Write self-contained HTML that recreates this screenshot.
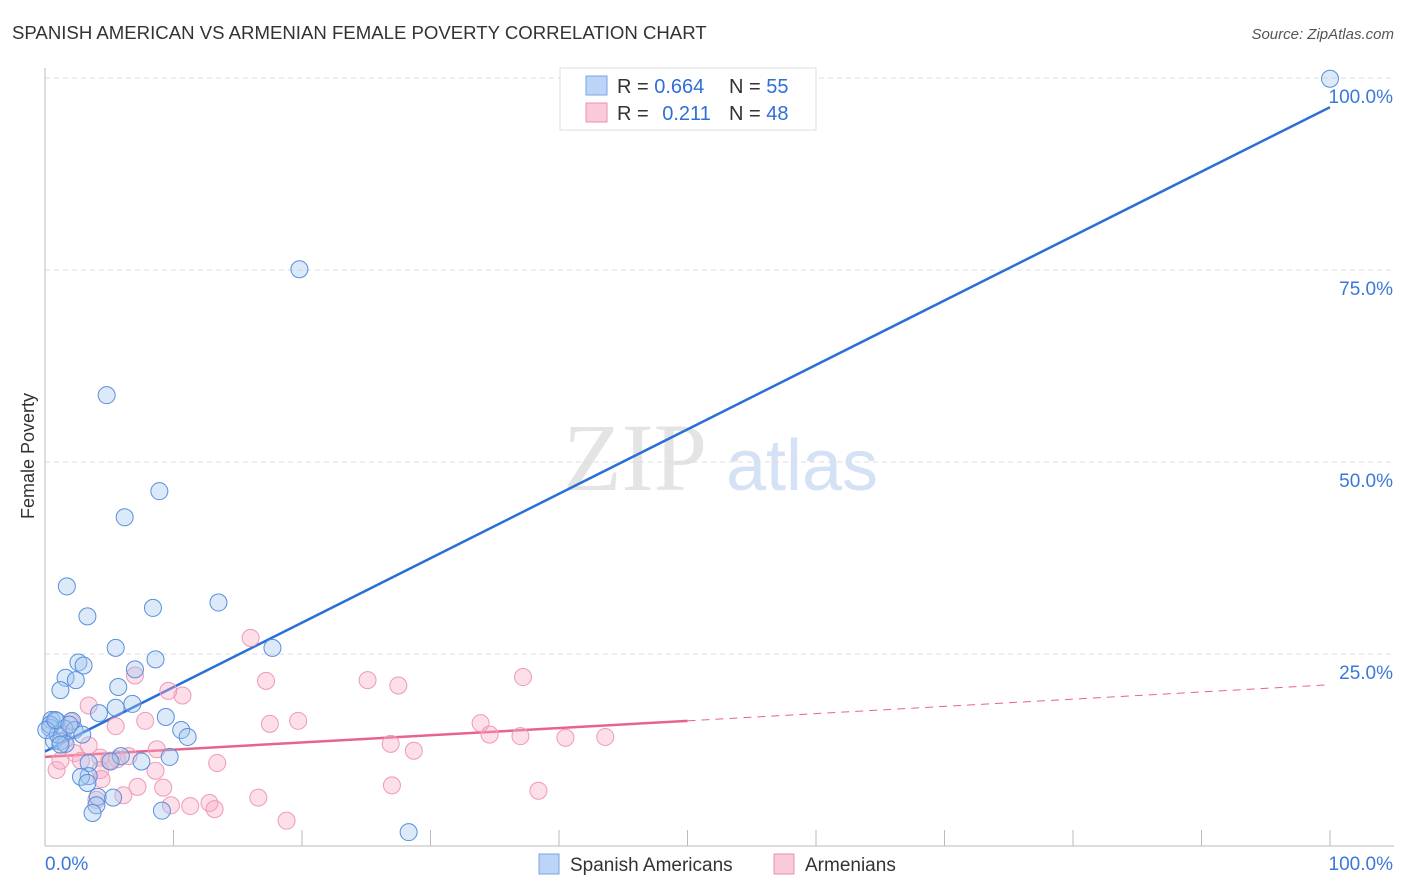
<!DOCTYPE html>
<html><head><meta charset="utf-8"><style>
body{margin:0;background:#fff;font-family:"Liberation Sans",sans-serif;}
svg{display:block}
</style></head><body>
<svg id="chart" width="1406" height="892">
<text x="12" y="39" font-size="18.6" fill="#333">SPANISH AMERICAN VS ARMENIAN FEMALE POVERTY CORRELATION CHART</text>
<text x="1394" y="39" font-size="15" fill="#555" font-style="italic" text-anchor="end">Source: ZipAtlas.com</text>
<text x="34" y="456" font-size="18" fill="#333" text-anchor="middle" transform="rotate(-90 34 456)">Female Poverty</text>
<g><text x="635" y="490" font-size="96" fill="#e4e4e4" font-family="Liberation Serif,serif" text-anchor="middle">ZIP</text><text x="802" y="490" font-size="72" fill="#d5e2f5" text-anchor="middle">atlas</text></g>
<g id="grid"></g><g id="axes"></g><g id="lines"></g><g id="pts"></g>
<g>
<rect x="560" y="68" width="256" height="62" fill="#fff" stroke="#ddd"/>
<rect x="586" y="76" width="21" height="19" fill="#bcd4f5" stroke="#7aa6e8"/>
<rect x="586" y="103" width="21" height="19" fill="#fbcad8" stroke="#ee8fae"/>
<text x="617" y="93" font-size="20" fill="#333">R = <tspan fill="#2f6fd6">0.664</tspan></text>
<text x="729" y="93" font-size="20" fill="#333">N = <tspan fill="#2f6fd6">55</tspan></text>
<text x="617" y="120" font-size="20" fill="#333">R = <tspan fill="#2f6fd6" dx="8">0.211</tspan></text>
<text x="729" y="120" font-size="20" fill="#333">N = <tspan fill="#2f6fd6">48</tspan></text>
</g>
<g>
<rect x="539" y="854" width="20" height="20" fill="#bcd4f5" stroke="#7aa6e8"/>
<text x="570" y="871" font-size="19" fill="#333">Spanish Americans</text>
<rect x="774" y="854" width="20" height="20" fill="#fbcad8" stroke="#ee8fae"/>
<text x="805" y="871" font-size="19" fill="#333">Armenians</text>
</g>
</svg>
<script>
const yTicks=[25,50,75,100];
const yTickLabels=["25.0%","50.0%","75.0%","100.0%"];
const xTickLabels=["0.0%","100.0%"];
const blueX=[100,19.8,4.8,8.9,6.2,1.7,3.3,8.4,13.5,5.5,8.6,17.7,2.6,3.0,1.6,2.4,1.2,7.0,5.7,6.8,5.5,4.2,9.4,0.5,0.9,2.1,0.4,1.5,2.3,10.6,11.1,2.9,0.7,1.2,1.6,5.9,7.5,9.7,5.1,3.4,3.4,2.8,3.3,4.1,4.0,5.3,9.1,3.7,28.3,0.4,1.0,0.1,1.2,0.8,1.9];
const blueY=[99.9,75.1,58.7,46.2,42.8,33.8,29.9,31.0,31.7,25.8,24.3,25.8,23.9,23.5,21.9,21.6,20.3,23.0,20.7,18.5,18.0,17.3,16.8,16.4,16.3,16.3,15.4,15.3,15.1,15.1,14.2,14.5,13.7,13.6,13.3,11.7,11.0,11.6,11.0,10.8,9.1,9.0,8.2,6.4,5.3,6.3,4.6,4.3,1.8,15.8,14.5,15.1,13.2,16.4,15.8];
const pinkX=[16.0,10.7,9.6,7.0,17.2,25.1,27.5,37.2,3.4,7.8,17.5,19.7,33.9,5.5,2.0,34.6,37.0,40.5,43.6,26.9,8.7,28.7,2.3,4.3,5.6,5.0,2.8,6.5,13.4,0.9,4.3,8.6,4.4,9.2,7.2,27.0,38.4,6.1,16.6,12.8,4.0,9.8,11.3,13.2,18.8,1.2,3.4,1.5];
const pinkY=[27.1,19.6,20.2,22.2,21.5,21.6,20.9,22.0,18.3,16.3,15.9,16.3,16.0,15.6,16.2,14.5,14.3,14.1,14.2,13.3,12.6,12.4,12.1,11.5,11.3,11.1,11.1,11.7,10.8,9.9,9.9,9.8,8.7,7.6,7.7,7.9,7.2,6.6,6.3,5.6,6.0,5.3,5.2,4.8,3.3,11.1,13.1,13.8];
const blueFit=[12.3,96.2];
const pinkFit=[11.6,21.0];
const pinkSolidEnd=50;
const NS="http://www.w3.org/2000/svg";
const X0=45,X1=1330,Y0=846,Y100=78;
const sx=v=>X0+(X1-X0)*v/100, sy=v=>Y0-(Y0-Y100)*v/100;
function mk(tag,attrs,parent){const e=document.createElementNS(NS,tag);for(const k in attrs)e.setAttribute(k,attrs[k]);document.getElementById(parent).appendChild(e);return e;}
yTicks.forEach((t,i)=>{
 const g=mk('line',{x1:X0,x2:1394,y1:sy(t),y2:sy(t),stroke:'#ddd','stroke-dasharray':'5,4'},'grid');
 
 
 const l=mk('text',{x:1393,y:sy(t)+25,'font-size':19,fill:'#3a78d8','text-anchor':'end'},'grid');
 l.textContent=yTickLabels[i];
 
 
});
let ax=mk('line',{x1:X0,x2:X0,y1:68,y2:Y0,stroke:'#bbb'},'axes');


ax=mk('line',{x1:X0,x2:1394,y1:Y0,y2:Y0,stroke:'#bbb'},'axes');


for(let i=1;i<=10;i++){const t=mk('line',{x1:sx(i*10),x2:sx(i*10),y1:Y0,y2:Y0-16,stroke:'#bbb'},'axes');
 
 }
[[0,'start',45],[100,'end',1393]].forEach((d,i)=>{const t=mk('text',{x:d[2],y:870,'font-size':19,fill:'#3a78d8','text-anchor':d[1]},'axes');t.textContent=xTickLabels[i];
 
 });
let ln=mk('line',{x1:sx(0),y1:sy(blueFit[0]),x2:sx(100),y2:sy(blueFit[1]),stroke:'#2a6fd6','stroke-width':2.5},'lines');


const pAt=v=>pinkFit[0]+(pinkFit[1]-pinkFit[0])*v/100;
ln=mk('line',{x1:sx(0),y1:sy(pAt(0)),x2:sx(pinkSolidEnd),y2:sy(pAt(pinkSolidEnd)),stroke:'#e8638c','stroke-width':2.5},'lines');


ln=mk('line',{x1:sx(pinkSolidEnd),y1:sy(pAt(pinkSolidEnd)),x2:sx(100),y2:sy(pAt(100)),stroke:'#e8638c','stroke-width':1,'stroke-dasharray':'8,6'},'lines');


pinkX.forEach((x,i)=>{const c=mk('circle',{cx:sx(x),cy:sy(pinkY[i]),r:8.5,fill:'rgba(248,170,195,0.38)',stroke:'#ee9ab6','stroke-width':1},'pts');
 
 });
blueX.forEach((x,i)=>{const c=mk('circle',{cx:sx(x),cy:sy(blueY[i]),r:8.5,fill:'rgba(160,196,240,0.38)',stroke:'#5a8fdc','stroke-width':1},'pts');
 
 });
</script>
</body></html>
